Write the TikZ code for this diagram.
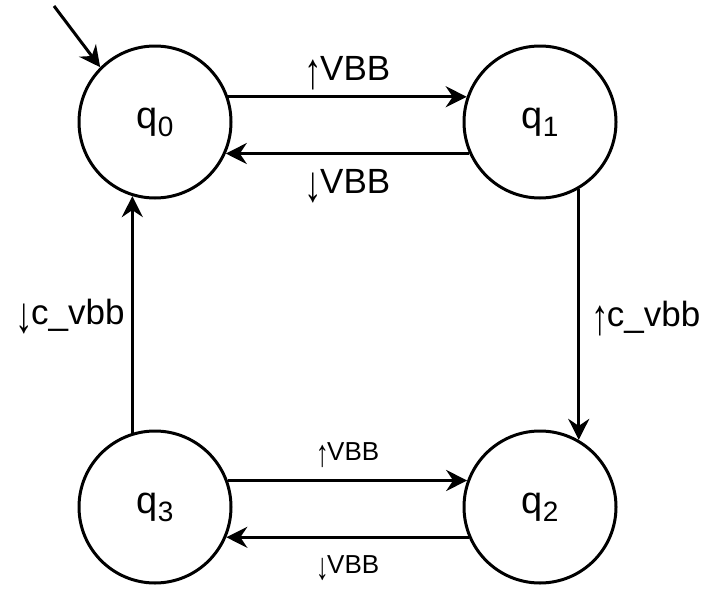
\documentclass[tikz,border=0pt]{standalone}
\usepackage{fontspec}
\setmainfont{Liberation Sans}
\usetikzlibrary{arrows.meta,automata,positioning}
\tikzstyle{every state}=[draw,line width=3pt,minimum size=152pt,inner sep=0pt,font=\fontsize{38}{40}\selectfont]
\tikzstyle{every edge}=[draw,line width=3pt,-{Stealth[length=21pt,width=21pt,inset=7pt]}]
\tikzstyle{small}=[font=\fontsize{26}{28}\selectfont]
\newcommand{\qsub}[2]{#1\raisebox{-8pt}{\fontsize{28}{28}\selectfont #2}}
\newcommand{\uparr}{\raisebox{-0.22em}{\scalebox{1}[1.45]{↑}}\kern-0.06em}
\newcommand{\dnarr}{\raisebox{-0.22em}{\scalebox{1}[1.45]{↓}}\kern-0.06em}

\begin{document}
\begin{tikzpicture}[x=1pt,y=-1pt,font=\fontsize{35}{38}\selectfont]
        \useasboundingbox (0,0) rectangle (715,589);
        \node[state] (q0) at (155,122) {\qsub{q}{0}};
        \node[state] (q1) at (540,122) {\qsub{q}{1}};
        \node[state] (q2) at (540,507) {\qsub{q}{2}};
        \node[state] (q3) at (155,507) {\qsub{q}{3}};
        \coordinate (start) at (54,6);
        \draw (start) edge (q0.135);
        \draw (q0.19) edge node[anchor=base,yshift=16pt] {\uparr VBB} (q1.161);
        \draw (q1.204) edge node[anchor=base,yshift=-40pt] {\dnarr VBB} (q0.336);
        \draw (q1.300) edge node[anchor=base west,xshift=8pt,yshift=-12pt] {\uparr c\_vbb} (q2.60);
        \draw (q3.107) edge node[anchor=base east,xshift=-3pt,yshift=-10pt] {\dnarr c\_vbb} (q0.253);
        \draw (q3.20) edge node[small,anchor=base,yshift=20pt] {\uparr VBB} (q2.160);
        \draw (q2.203) edge node[small,anchor=base,yshift=-36pt] {\dnarr VBB} (q3.337);
      \end{tikzpicture}
\end{document}
